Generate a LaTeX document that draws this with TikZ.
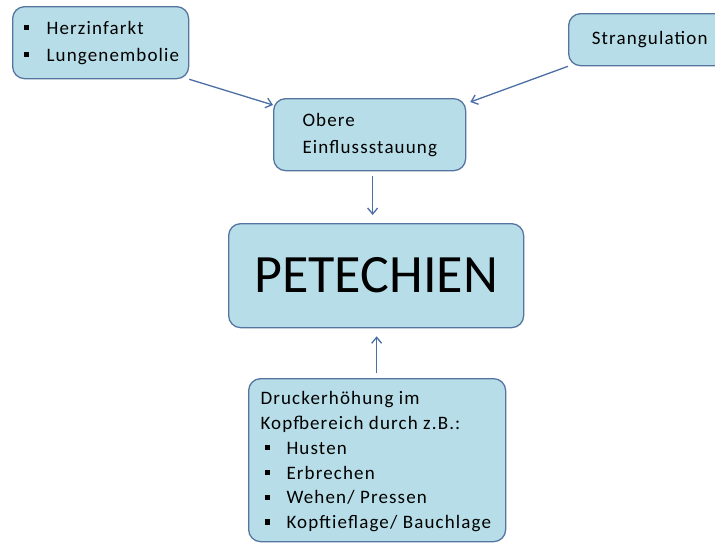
\documentclass[tikz,border=0pt]{standalone}
\usepackage{fontspec}
\setmainfont{Carlito}
\newfontfamily\spacedfont{Carlito}[LetterSpace=6]
\usetikzlibrary{positioning,arrows.meta}
\definecolor{boxfill}{HTML}{B7DEE8}
\definecolor{boxline}{HTML}{5575A0}
\definecolor{flowline}{HTML}{4A6EA5}
\newcommand{\sqbullet}{\rule[0.2em]{5.5pt}{5.5pt}}
\newcommand{\bitem}[1]{\makebox[23pt][l]{\sqbullet}#1}

\begin{document}
\begin{tikzpicture}[x=1pt,y=-1pt,
  box/.style={draw=boxline,line width=1.3pt,fill=boxfill,rounded corners=12pt,
    inner sep=0pt,anchor=north west},
  smalltext/.style={font=\spacedfont\fontsize{19}{27}\selectfont,align=left},
  flow/.style={draw=flowline,line width=1.3pt,-{Straight Barb[length=6pt,width=10pt]}}]
\useasboundingbox (0,0) rectangle (715,542);
\clip (0,0) rectangle (715,542);
% boxes
\node[box,minimum width=176pt,minimum height=72pt] (herz) at (12,6) {};
\node[smalltext,anchor=west] at ([xshift=8pt]herz.west)
  {\bitem{Herzinfarkt}\\\bitem{Lungenembolie}};
\node[box,minimum width=158pt,minimum height=52pt] (strang) at (568,13) {};
\node[smalltext] at ([xshift=2pt]strang.center) {Strangulation};
\node[box,minimum width=192pt,minimum height=72pt] (obere) at (273,98) {};
\node[smalltext,anchor=west] at ([xshift=26pt]obere.west) {Obere\\Einflussstauung};
\node[box,minimum width=295pt,minimum height=104pt,
  font=\fontsize{54}{60}\selectfont] (pete) at (228,223) {PETECHIEN};
\node[box,minimum width=257pt,minimum height=163pt] (druck) at (248,378) {};
\node[smalltext,anchor=west,font=\spacedfont\fontsize{19}{24.8}\selectfont]
  at ([xshift=9pt,yshift=-1.5pt]druck.west)
  {Druckerh\"ohung im\\Kopfbereich durch z.B.:\\
   \hspace*{4pt}\makebox[22pt][l]{\sqbullet}Husten\\
   \hspace*{4pt}\makebox[22pt][l]{\sqbullet}Erbrechen\\
   \hspace*{4pt}\makebox[22pt][l]{\sqbullet}Wehen/ Pressen\\
   \hspace*{4pt}\makebox[22pt][l]{\sqbullet}Kopftieflage/ Bauchlage};
% arrows
\draw[flow] (herz.south east) -- ([yshift=-7pt]obere.north west);
\draw[flow] (strang.south west) -- ([xshift=4pt,yshift=-4pt]obere.north east);
\draw[flow] ([xshift=3pt,yshift=-5pt]obere.south) -- ([xshift=-3.5pt,yshift=8pt]pete.north);
\draw[flow] ([xshift=-0.5pt,yshift=5pt]druck.north) -- ([xshift=0.5pt,yshift=-8pt]pete.south);
\end{tikzpicture}
\end{document}
